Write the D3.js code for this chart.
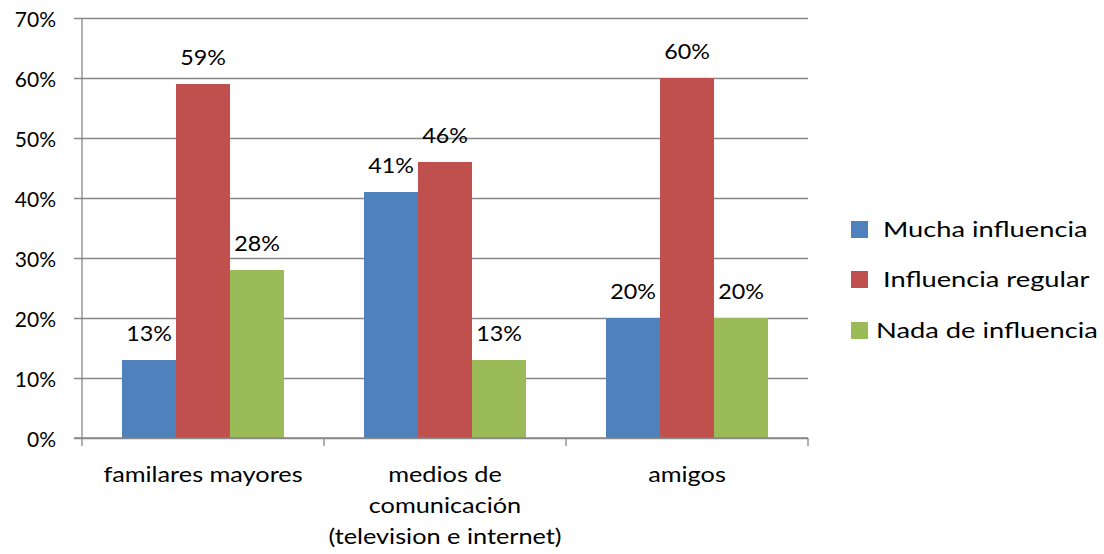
<!DOCTYPE html>
<html>
<head>
<meta charset="utf-8">
<script src="https://cdn.jsdelivr.net/npm/d3@7/dist/d3.min.js"></script>
<style>
  html, body { margin: 0; padding: 0; background: #fff; }
  svg text { font-family: Lato, "Open Sans", sans-serif; fill: #000; }
</style>
</head>
<body>
<svg id="chart" width="1104" height="554"></svg>
<script>
// Categories and their wrapped label lines
const categories = ["familares mayores", "medios de comunicación", "amigos"];
const categoryLines = [
  ["familares mayores"],
  ["medios de", "comunicación", "(television e internet)"],
  ["amigos"]
];
const seriesNames = [" Mucha influencia", " Influencia regular", "Nada de influencia"];
const mucha = [0.13, 0.41, 0.20];
const regular = [0.59, 0.46, 0.60];
const nada = [0.28, 0.13, 0.20];
const yTicks = [0, 0.1, 0.2, 0.3, 0.4, 0.5, 0.6, 0.7];
const colors = ["#4F81BD", "#C0504D", "#9BBB59"];

const seriesValues = [mucha, regular, nada];

const svg = d3.select("#chart");
const pct = d3.format(".0%");

const plot = { left: 82, right: 808, top: 18, bottom: 438 };

// text is set a little wide, the way the original typeface runs
const style = {
  tick: { size: 21, sx: 1.0 },
  value: { size: 22, sx: 1.06 },
  cat: { size: 22, sx: 1.15 },
  legend: { size: 22, sx: 1.24 }
};

const x0 = d3.scaleBand()
  .domain(categories)
  .range([plot.left, plot.right])
  .padding(0);

// the three bars sit in the middle of each category band
const gapFrac = 40 / 242;
const x1 = d3.scaleBand()
  .domain(d3.range(seriesNames.length))
  .range([x0.bandwidth() * gapFrac, x0.bandwidth() * (1 - gapFrac)])
  .padding(0);

const y = d3.scaleLinear().domain([0, 0.7]).range([plot.bottom, plot.top]);

const gridColor = "#878787";

// horizontal gridlines with small left ticks
const yAxis = d3.axisLeft(y)
  .tickValues(yTicks)
  .tickSize(-(plot.right - plot.left))
  .tickSizeOuter(0)
  .tickFormat(pct);

const gy = svg.append("g")
  .attr("transform", `translate(${plot.left},0)`)
  .call(yAxis);
gy.select(".domain").remove();
gy.selectAll(".tick line")
  .attr("x1", -8)
  .attr("stroke", gridColor)
  .attr("stroke-width", 1.3);
gy.selectAll(".tick text")
  .attr("x", -26)
  .attr("dy", null)
  .attr("y", 8)
  .attr("text-anchor", "end")
  .style("font-size", style.tick.size + "px")
  .style("font-family", "Lato, sans-serif")
  .attr("fill", "#000");

// vertical axis line
svg.append("line")
  .attr("x1", plot.left).attr("x2", plot.left)
  .attr("y1", plot.top).attr("y2", plot.bottom)
  .attr("stroke", gridColor).attr("stroke-width", 1.3);

// bars
const groups = svg.append("g").selectAll("g")
  .data(categories)
  .join("g")
  .attr("transform", d => `translate(${x0(d)},0)`);

const cells = (c, ci) => seriesValues.map((vals, si) => ({ si, v: vals[ci] }));

groups.selectAll("rect")
  .data(cells)
  .join("rect")
  .attr("x", d => x1(d.si))
  .attr("width", x1.bandwidth())
  .attr("y", d => y(d.v))
  .attr("height", d => y(0) - y(d.v))
  .attr("fill", d => colors[d.si]);

// value labels above the bars
groups.selectAll("text.val")
  .data(cells)
  .join("text")
  .attr("class", "val")
  .attr("transform", d =>
    `translate(${x1(d.si) + x1.bandwidth() / 2},${y(d.v) - 19}) scale(${style.value.sx},1)`)
  .attr("text-anchor", "middle")
  .style("font-size", style.value.size + "px")
  .text(d => pct(d.v));

// x axis with ticks between categories
const gx = svg.append("g")
  .attr("transform", `translate(0,${plot.bottom})`);
gx.append("line")
  .attr("x1", plot.left - 8).attr("x2", plot.right)
  .attr("stroke", gridColor).attr("stroke-width", 1.3);
const boundaries = categories.map(c => x0(c)).concat([plot.right]);
gx.selectAll("line.tick")
  .data(boundaries)
  .join("line")
  .attr("class", "tick")
  .attr("x1", d => d).attr("x2", d => d)
  .attr("y1", 0).attr("y2", 8)
  .attr("stroke", gridColor).attr("stroke-width", 1.3);

gx.selectAll("g.cat")
  .data(categories)
  .join("g")
  .attr("class", "cat")
  .each(function (d, i) {
    d3.select(this).selectAll("text")
      .data(categoryLines[i])
      .join("text")
      .attr("text-anchor", "middle")
      .style("font-size", style.cat.size + "px")
      .attr("transform", (l, j) =>
        `translate(${x0(d) + x0.bandwidth() / 2},${44 + j * 31}) scale(${style.cat.sx},1)`)
      .text(l => l);
  });

// legend
const legend = svg.append("g");
const legendTop = [221, 271, 322];
seriesNames.forEach((name, i) => {
  legend.append("rect")
    .attr("x", 851).attr("y", legendTop[i])
    .attr("width", 17).attr("height", 17)
    .attr("fill", colors[i]);
  legend.append("text")
    .attr("transform", `translate(876,${legendTop[i] + 16}) scale(${style.legend.sx},1)`)
    .style("font-size", style.legend.size + "px")
    .attr("xml:space", "preserve")
    .style("white-space", "pre")
    .text(name);
});
</script>
</body>
</html>
